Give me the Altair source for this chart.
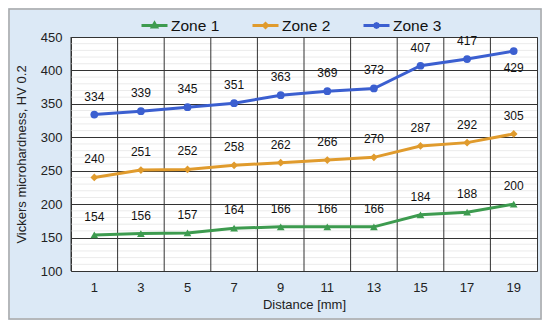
import altair as alt
import pandas as pd

distance = ["1", "3", "5", "7", "9", "11", "13", "15", "17", "19"]
zone1 = [154, 156, 157, 164, 166, 166, 166, 184, 188, 200]
zone2 = [240, 251, 252, 258, 262, 266, 270, 287, 292, 305]
zone3 = [334, 339, 345, 351, 363, 369, 373, 407, 417, 429]
zones = ["Zone 1", "Zone 2", "Zone 3"]
colors = ["#3d9b4f", "#e09b2d", "#3b5fd0"]
shapes = ["triangle-up", "diamond", "circle"]
legend_paths = [
    "M-1,0L1,0M0,-0.17L0.16,0.11L-0.16,0.11Z",
    "M-1,0L1,0M0,-0.15L0.15,0L0,0.15L-0.15,0Z",
    "M-1,0L1,0M0.14,0L0.1,0.1L0,0.14L-0.1,0.1L-0.14,0L-0.1,-0.1L0,-0.14L0.1,-0.1Z",
]
y_ticks = [100, 150, 200, 250, 300, 350, 400, 450]
minor_ticks = [v for v in range(110, 450, 10) if v % 50 != 0]

rows = []
for z, vals in zip(zones, [zone1, zone2, zone3]):
    for d, v in zip(distance, vals):
        rows.append({"Distance": d, "HV": v, "Zone": z,
                     "below": (z == "Zone 3" and d == "19")})
df = pd.DataFrame(rows)

FONT = "Liberation Sans"
xaxis = alt.Axis(title="Distance [mm]", labelAngle=0, ticks=False, domain=False,
                 grid=False, labelPadding=10, labelFontSize=13, titleFontSize=13,
                 titleFontWeight="normal", titlePadding=4, labelColor="#222",
                 titleColor="#222", labelFont=FONT, titleFont=FONT)
yaxis = alt.Axis(title="Vickers microhardness,  HV 0.2", values=y_ticks, ticks=False,
                 domain=False, grid=True, gridColor="#333333", gridWidth=1,
                 labelPadding=9, labelFontSize=13, titleFontSize=13, labelOverlap=False,
                 titleFontWeight="normal", titlePadding=12, labelColor="#222",
                 titleColor="#222", labelFont=FONT, titleFont=FONT)
xscale = alt.Scale(type="band", paddingInner=0, paddingOuter=0)
yscale = alt.Scale(domain=[100, 450], nice=False, zero=False)
xenc = alt.X("Distance:N", sort=distance, bandPosition=0.5, scale=xscale, axis=xaxis)
yenc = alt.Y("HV:Q", scale=yscale, axis=yaxis)

color_scale = alt.Scale(domain=zones, range=colors)

legend = alt.Legend(
    orient="none", legendX=69, legendY=-26, direction="horizontal", title=None,
    symbolSize=676, symbolStrokeWidth=3, symbolOpacity=1, labelFontSize=15.5,
    labelFont=FONT, labelColor="#111", columnPadding=26, labelOffset=2,
)

base = alt.Chart(df)

legend_layer = base.mark_point(filled=False, opacity=0).encode(
    x=xenc, y=yenc,
    color=alt.Color("Zone:N", scale=color_scale, legend=legend),
    shape=alt.Shape("Zone:N", scale=alt.Scale(domain=zones, range=legend_paths), legend=legend))

minor = alt.Chart(pd.DataFrame({"HV": minor_ticks})).mark_rule(color="#ebebeb", strokeWidth=1).encode(
    y=yenc)

vgrid = alt.Chart(pd.DataFrame({"Distance": distance})).mark_rule(color="#333333", strokeWidth=1).encode(
    x=alt.X("Distance:N", sort=distance, bandPosition=0, scale=xscale, axis=xaxis))

lines = base.mark_line(strokeWidth=3).encode(
    x=xenc, y=yenc, color=alt.Color("Zone:N", scale=color_scale, legend=legend))

point_layers = [
    base.transform_filter(alt.datum.Zone == z).mark_point(
        filled=True, size=60, opacity=1, shape=s).encode(
        x=xenc, y=yenc, color=alt.Color("Zone:N", scale=color_scale, legend=legend))
    for z, s in zip(zones, shapes)
]

labels_above = base.transform_filter("!datum.below").mark_text(
    dy=-18, fontSize=12, font=FONT, color="#111").encode(
    x=xenc, y=yenc, text="HV:Q")
labels_below = base.transform_filter("datum.below").mark_text(
    dy=17, fontSize=12, font=FONT, color="#111").encode(
    x=xenc, y=yenc, text="HV:Q")

border = alt.Chart(pd.DataFrame({"a": [0]})).mark_rect(
    fill=None, stroke="#a8a8a8", strokeWidth=1.5).encode(
    x=alt.value(-62), x2=alt.value(470), y=alt.value(-28), y2=alt.value(282))

chart = alt.layer(legend_layer, minor, vgrid, lines, *point_layers, labels_above, labels_below, border).properties(
    width=466, height=234,
    padding={"left": 63, "top": 29, "right": 5, "bottom": 49},
    autosize="none",
    background="#dce9f6",
).configure_view(fill="white", stroke="#333333", strokeWidth=1)

chart.save("out.html", embed_options={"renderer": "svg", "actions": False})
